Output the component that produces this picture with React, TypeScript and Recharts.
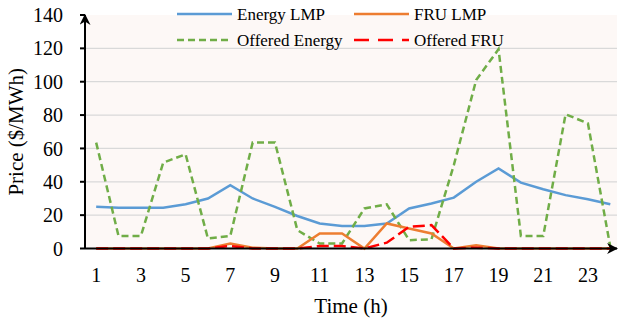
import React from 'react'
import { LineChart, Line, XAxis, YAxis, CartesianGrid } from 'recharts'

const hours = [1, 2, 3, 4, 5, 6, 7, 8, 9, 10, 11, 12, 13, 14, 15, 16, 17, 18, 19, 20, 21, 22, 23, 24]
const energyLmp = [25, 24.5, 24.5, 24.5, 26.5, 30, 38, 30, 25, 19.5, 15, 13.5, 13.5, 15, 24, 27, 30.5, 40, 48, 39.5, 35.5, 32, 29.5, 26.5]
const fruLmp = [0, 0, 0, 0, 0, 0, 3, 0.5, 0, 0, 9, 9, 0, 15, 12, 9, 0, 2, 0, 0, 0, 0, 0, 0]
const offeredEnergy = [63.5, 7.5, 7.5, 51.5, 56.5, 6, 7.5, 63.5, 63.5, 11, 3, 3, 24, 26.5, 5, 5.5, 50, 101, 119.5, 7.5, 7.5, 80.5, 75, 1]
const offeredFru = [0, 0, 0, 0, 0, 0, 1.5, 0, 0, 0, 1.5, 1.5, 0, 3.5, 13, 14, 0, 0.5, 0, 0, 0, 0, 0, 0]

const xTicks = [1, 3, 5, 7, 9, 11, 13, 15, 17, 19, 21, 23]
const yTicks = [0, 20, 40, 60, 80, 100, 120, 140]
const gridValues = [20, 40, 60, 80, 100, 120]

const data = hours.map((h, i) => ({
  hour: h,
  energyLmp: energyLmp[i],
  fruLmp: fruLmp[i],
  offeredEnergy: offeredEnergy[i],
  offeredFru: offeredFru[i],
}))

const serif = "'Times New Roman', 'Liberation Serif', serif"

// excel-ish palette
const blue = '#5b9bd5'
const orange = '#ed7d31'
const green = '#70ad47'
const red = '#ff0000'

const YLabel = ({ viewBox }: any) => {
  const cx = viewBox.x + 16
  const cy = viewBox.y + viewBox.height / 2
  return (
    <text x={cx} y={cy} transform={`rotate(-90 ${cx} ${cy})`} textAnchor="middle" dominantBaseline="central"
      fontFamily={serif} fontSize={21} fill="#000">
      Price ($/MWh)
    </text>
  )
}

const XLabel = ({ viewBox }: any) => {
  const cx = viewBox.x + viewBox.width / 2
  return (
    <text x={cx} y={viewBox.y + 57} textAnchor="middle" dominantBaseline="central"
      fontFamily={serif} fontSize={21} fill="#000">
      Time (h)
    </text>
  )
}

const legendItems = [
  { name: 'Energy LMP', color: blue, dash: undefined, x: 177, y: 14 },
  { name: 'FRU LMP', color: orange, dash: undefined, x: 354, y: 14 },
  { name: 'Offered Energy', color: green, dash: '7 4', x: 177, y: 40 },
  { name: 'Offered FRU', color: red, dash: '15 9', x: 354, y: 40 },
]

function LegendOverlay() {
  return (
    <svg width={619} height={55} style={{ position: 'absolute', left: 0, top: 0, pointerEvents: 'none' }}>
      {legendItems.map((it) => (
        <g key={it.name}>
          <line x1={it.x} x2={it.x + 55} y1={it.y} y2={it.y} stroke={it.color} strokeWidth={2.5} strokeDasharray={it.dash} />
          <text x={it.x + 60} y={it.y} dominantBaseline="central" fontFamily={serif} fontSize={17} fill="#000">
            {it.name}
          </text>
        </g>
      ))}
    </svg>
  )
}

export default function App() {
  return (
    <div style={{ position: 'relative', width: 619, height: 327, overflow: 'hidden', background: '#fff' }}>
      <style>{'body{margin:0}'}</style>
      <LineChart width={619} height={327} data={data} margin={{ top: 15, right: 2, bottom: 18.5, left: 0 }}>
        <defs>
          <marker id="arrowHead" viewBox="0 0 10 10" refX={9} refY={5} markerWidth={11} markerHeight={11}
            markerUnits="userSpaceOnUse" orient="auto-start-reverse">
            <path d="M0,0 L10,5 L0,10 L3,5 z" fill="#000" />
          </marker>
        </defs>
        <CartesianGrid vertical={false} horizontalValues={gridValues} stroke="#d9d9d9" strokeWidth={1.2} fill="#fdf8f6" />
        <XAxis
          dataKey="hour"
          type="number"
          domain={[0.5, 24.3]}
          ticks={xTicks}
          interval={0}
          height={60}
          tickLine={false}
          tickSize={0}
          tickMargin={19.5}
          axisLine={{ stroke: '#000', strokeWidth: 2, markerEnd: 'url(#arrowHead)' }}
          tick={{ fill: '#000', fontSize: 20, fontFamily: serif }}
          label={<XLabel />}
        />
        <YAxis
          type="number"
          domain={[0, 140]}
          ticks={yTicks}
          interval={0}
          width={85}
          tickSize={5}
          tickMargin={17}
          tickLine={{ stroke: '#000', strokeWidth: 2 }}
          axisLine={{ stroke: '#000', strokeWidth: 2, markerStart: 'url(#arrowHead)' }}
          tick={{ fill: '#000', fontSize: 20, fontFamily: serif }}
          label={<YLabel />}
        />
        <Line type="linear" dataKey="energyLmp" stroke={blue} strokeWidth={2.5} dot={false} activeDot={false} isAnimationActive={false} />
        <Line type="linear" dataKey="offeredEnergy" stroke={green} strokeWidth={2.5} strokeDasharray="7 4" dot={false} activeDot={false} isAnimationActive={false} />
        <Line type="linear" dataKey="fruLmp" stroke={orange} strokeWidth={2.5} dot={false} activeDot={false} isAnimationActive={false} />
        <Line type="linear" dataKey="offeredFru" stroke={red} strokeWidth={2.5} strokeDasharray="12 5" dot={false} activeDot={false} isAnimationActive={false} />
      </LineChart>
      <LegendOverlay />
    </div>
  )
}
